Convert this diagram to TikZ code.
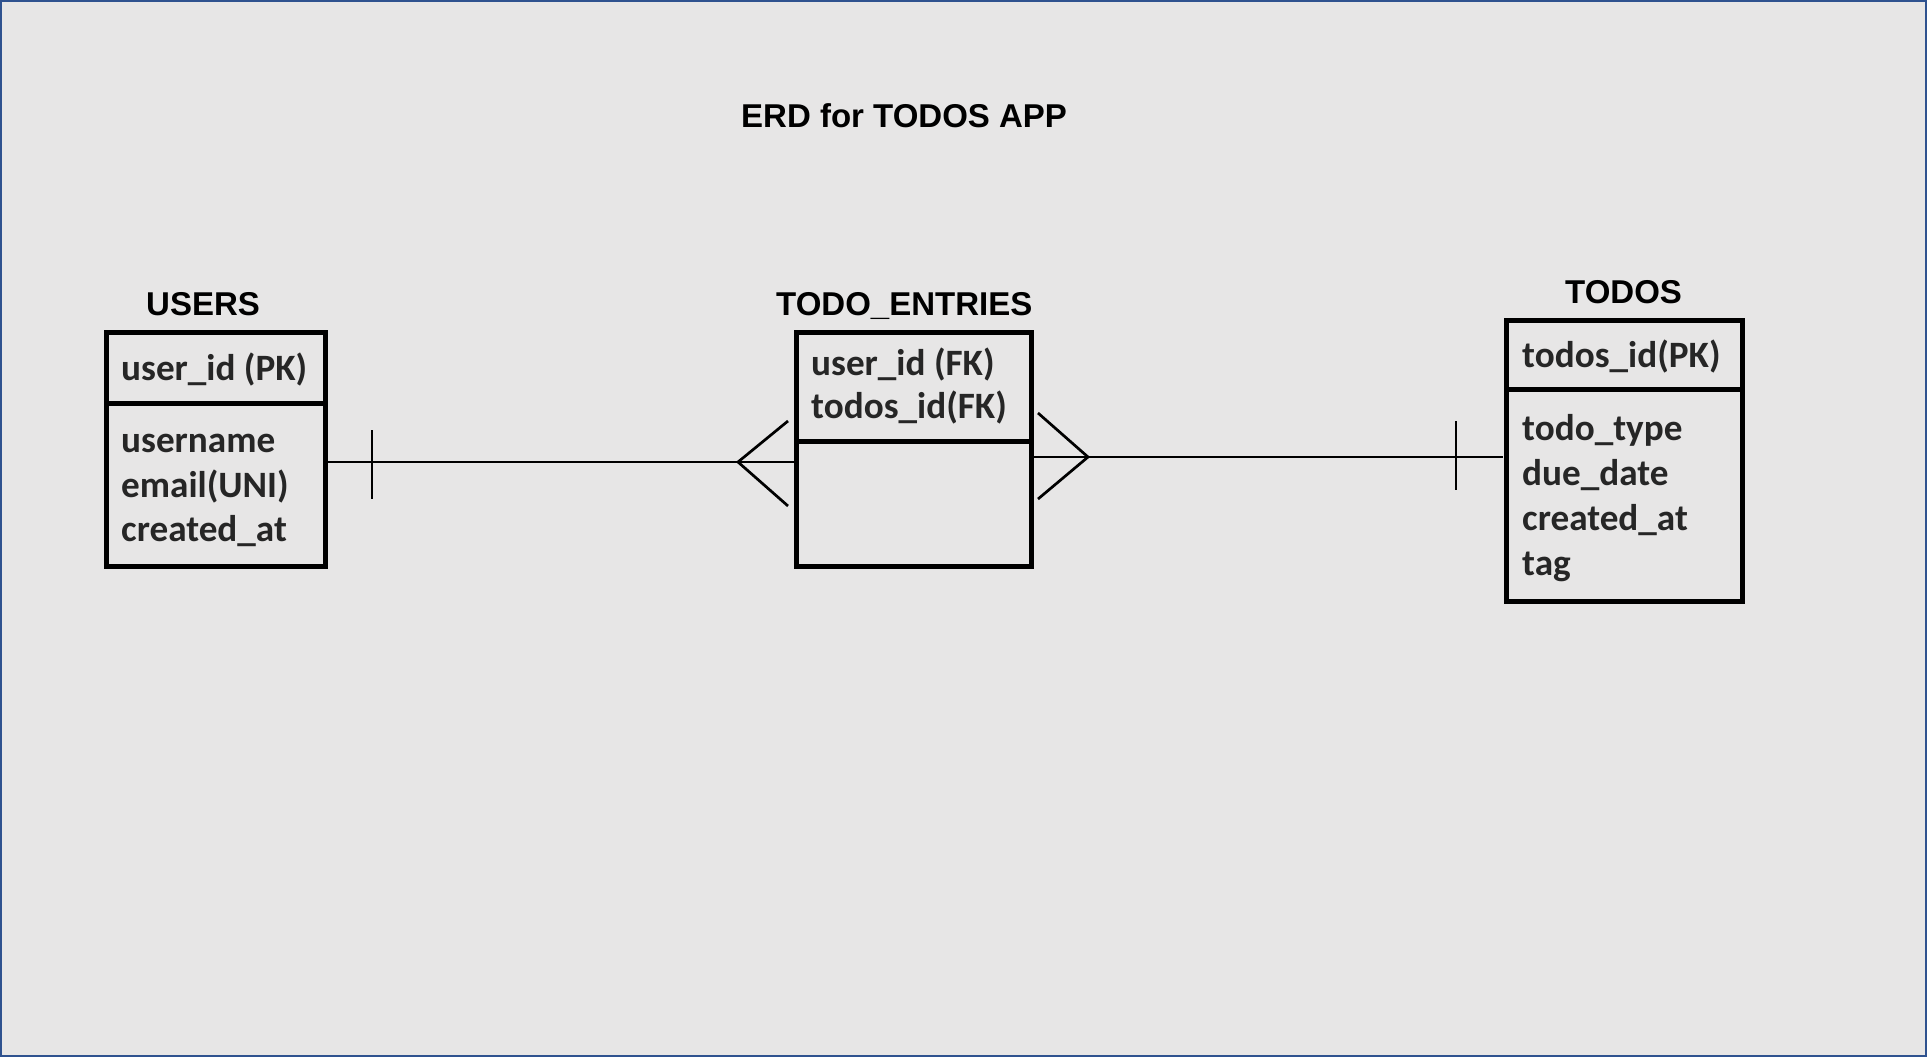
\documentclass[tikz,border=0pt]{standalone}
\usepackage{fontspec}
\setmainfont{Carlito}
\newfontfamily\arialfont{Liberation Sans}
\definecolor{bgc}{HTML}{E7E6E6}
\definecolor{framec}{HTML}{2F528F}
\definecolor{rowc}{HTML}{262626}
\tikzset{
  tablebox/.style={draw=black, line width=5pt, inner sep=0pt, outer sep=0pt, anchor=north west},
  divider/.style={draw=black, line width=5pt},
  conn/.style={draw=black, line width=2.7pt},
  rowtext/.style={anchor=base west, inner sep=0pt, text=rowc, font=\fontsize{37.2}{40}\selectfont\bfseries},
  label/.style={anchor=base west, inner sep=0pt, text=black, font=\arialfont\fontsize{33}{36}\selectfont\bfseries}
}
\begin{document}
\begin{tikzpicture}[x=1pt,y=-1pt]
\useasboundingbox (0,0) rectangle (1927,1057);
\fill[bgc] (0,0) rectangle (1927,1057);
\draw[framec, line width=2.2pt] (1.1,1.1) rectangle (1925.9,1055.9);

% title
\node[label] (title) at (741,127) {ERD for TODOS APP};

% USERS
\node[label] (userslbl) at (146,315) {USERS};
\node[tablebox, minimum width=219pt, minimum height=234pt] (users) at (106,332) {};
\draw[divider] (users.west |- 0,403) -- (users.east |- 0,403);
\node[rowtext] (u1) at (121,380) {user\_id (PK)};
\node[rowtext] (u2) at (121,452) {username};
\node[rowtext] (u3) at (121,497) {email(UNI)};
\node[rowtext] (u4) at (121,541) {created\_at};

% TODO_ENTRIES
\node[label] (entrieslbl) at (776,315) {TODO\_ENTRIES};
\node[tablebox, minimum width=235pt, minimum height=234pt] (entries) at (796,332) {};
\draw[divider] (entries.west |- 0,441) -- (entries.east |- 0,441);
\node[rowtext] (e1) at (811,375) {user\_id (FK)};
\node[rowtext] (e2) at (811,418) {todos\_id(FK)};

% TODOS
\node[label] (todoslbl) at (1565,303) {TODOS};
\node[tablebox, minimum width=235.5pt, minimum height=281.5pt] (todos) at (1506.5,320) {};
\draw[divider] (todos.west |- 0,389) -- (todos.east |- 0,389);
\node[rowtext] (t1) at (1522,367) {todos\_id(PK)};
\node[rowtext] (t2) at (1522,440) {todo\_type};
\node[rowtext] (t3) at (1522,485) {due\_date};
\node[rowtext] (t4) at (1522,530) {created\_at};
\node[rowtext] (t5) at (1522,575) {tag};

% USERS -- TODO_ENTRIES (one to many)
\coordinate (la) at (738,462);
\draw[conn] (users.east |- la) -- (entries.west |- la);
\draw[conn] (372,430) -- (372,499);
\draw[conn] (788,421) -- (la) -- (788,506);

% TODO_ENTRIES -- TODOS (many to one)
\coordinate (ra) at (1088,457);
\draw[conn] (entries.east |- ra) -- ([xshift=-4pt]todos.west |- ra);
\draw[conn] (1456,421) -- (1456,490);
\draw[conn] (1038,413) -- (ra) -- (1038,499);
\end{tikzpicture}
\end{document}
